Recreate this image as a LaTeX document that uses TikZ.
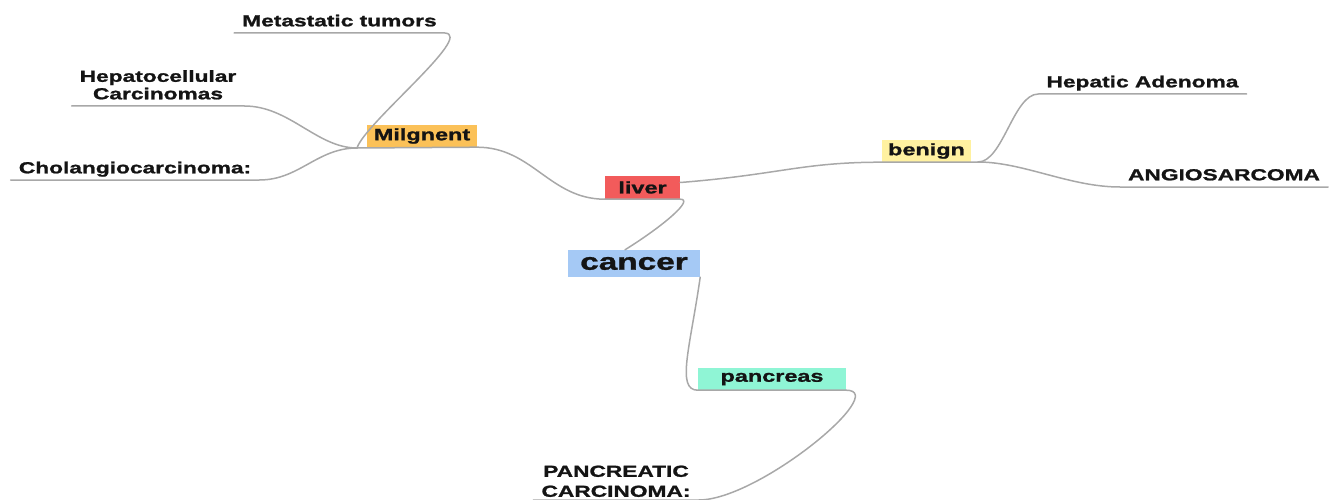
\documentclass[tikz,border=0pt]{standalone}
\usepackage{fontspec}
\newfontfamily\mapfont{Liberation Sans Bold}[FakeStretch=1.42, FakeBold=1.3]
\definecolor{linegray}{HTML}{A8A8A8}
\definecolor{textblack}{HTML}{141414}
\definecolor{milcol}{HTML}{FBC158}
\definecolor{livcol}{HTML}{F25B5B}
\definecolor{cancol}{HTML}{A5C9F5}
\definecolor{pancol}{HTML}{8FF5D5}
\definecolor{bencol}{HTML}{FFF1A0}
\begin{document}
\begin{tikzpicture}[x=1pt,y=-1pt,
	branch/.style={draw=linegray, line width=1.5pt, line cap=round},
	topic/.style={fill=#1, minimum height=22pt, inner sep=0pt, text=textblack,
		font=\mapfont\fontsize{16.5}{18}\selectfont},
	leaf/.style={anchor=south, inner xsep=8pt, inner ysep=6.5pt, text depth=0pt,
		align=center, text=textblack, font=\mapfont\fontsize{16}{17.5}\selectfont}]
	\useasboundingbox (0,0) rectangle (1332,500);
	
	\node[topic=milcol, minimum width=110pt] (mil) at (422,136) {Milgnent};
	\node[topic=livcol, minimum width=75pt, minimum height=23pt] (liver) at (642.5,187.5) {liver};
	\node[topic=cancol, minimum width=132pt, minimum height=27pt,
		font=\mapfont\fontsize{23.5}{25}\selectfont] (cancer) at (634,263.5) {cancer};
	\node[topic=pancol, minimum width=148pt] (pancreas) at (772,379) {pancreas};
	\node[topic=bencol, minimum width=89pt] (benign) at (926.5,151) {benign};
	
	\node[leaf] (meta) at (339.5,33) {Metastatic tumors};
	\node[leaf] (hepa) at (158,106) {Hepatocellular\\Carcinomas};
	\node[leaf] (chol) at (135,180) {Cholangiocarcinoma:};
	\node[leaf] (hepad) at (1142.5,94) {Hepatic Adenoma};
	\node[leaf] (angio) at (1224,187) {ANGIOSARCOMA};
	\node[leaf, inner ysep=3pt, font=\mapfont\fontsize{16}{20}\selectfont] (panc) at (616,500) {PANCREATIC\\CARCINOMA:};
	
	\coordinate (mj) at (357,148);
	\coordinate (bj) at (978,162);
	
	% liver -> malignant
	\draw[branch] (liver.south west) .. controls +(-55,0) and +(55,0) .. (mil.south east) -- (mj);
	\draw[branch] (mj) .. controls +(8,-25) and +(30,2) .. (meta.south east) -- (meta.south west);
	\draw[branch] (mj) .. controls +(-40,0) and +(45,0) .. (hepa.south east) -- (hepa.south west);
	\draw[branch] (mj) .. controls +(-40,0) and +(40,0) .. (chol.south east) -- (chol.south west);
	
	% liver -> benign
	\draw[branch] ([yshift=5pt]liver.east) .. controls +(100,-8) and +(-80,0) .. (benign.south west) -- (benign.south east) -- (bj);
	\draw[branch] (bj) .. controls +(25,0) and +(-25,0) .. (hepad.south west) -- (hepad.south east);
	\draw[branch] (bj) .. controls +(45,0) and +(-50,0) .. (angio.south west) -- (angio.south east);
	
	% cancer
	\draw[branch] (liver.south west) -- (liver.south east) .. controls +(14,0) and +(40,-25) .. ([xshift=-9pt]cancer.north);
	\draw[branch] (cancer.south east) .. controls +(-10,70) and +(-22,0) .. (pancreas.south west) -- (pancreas.south east)
		.. controls +(45,0) and +(60,0) .. (panc.south east) -- (panc.south west);
\end{tikzpicture}
\end{document}
